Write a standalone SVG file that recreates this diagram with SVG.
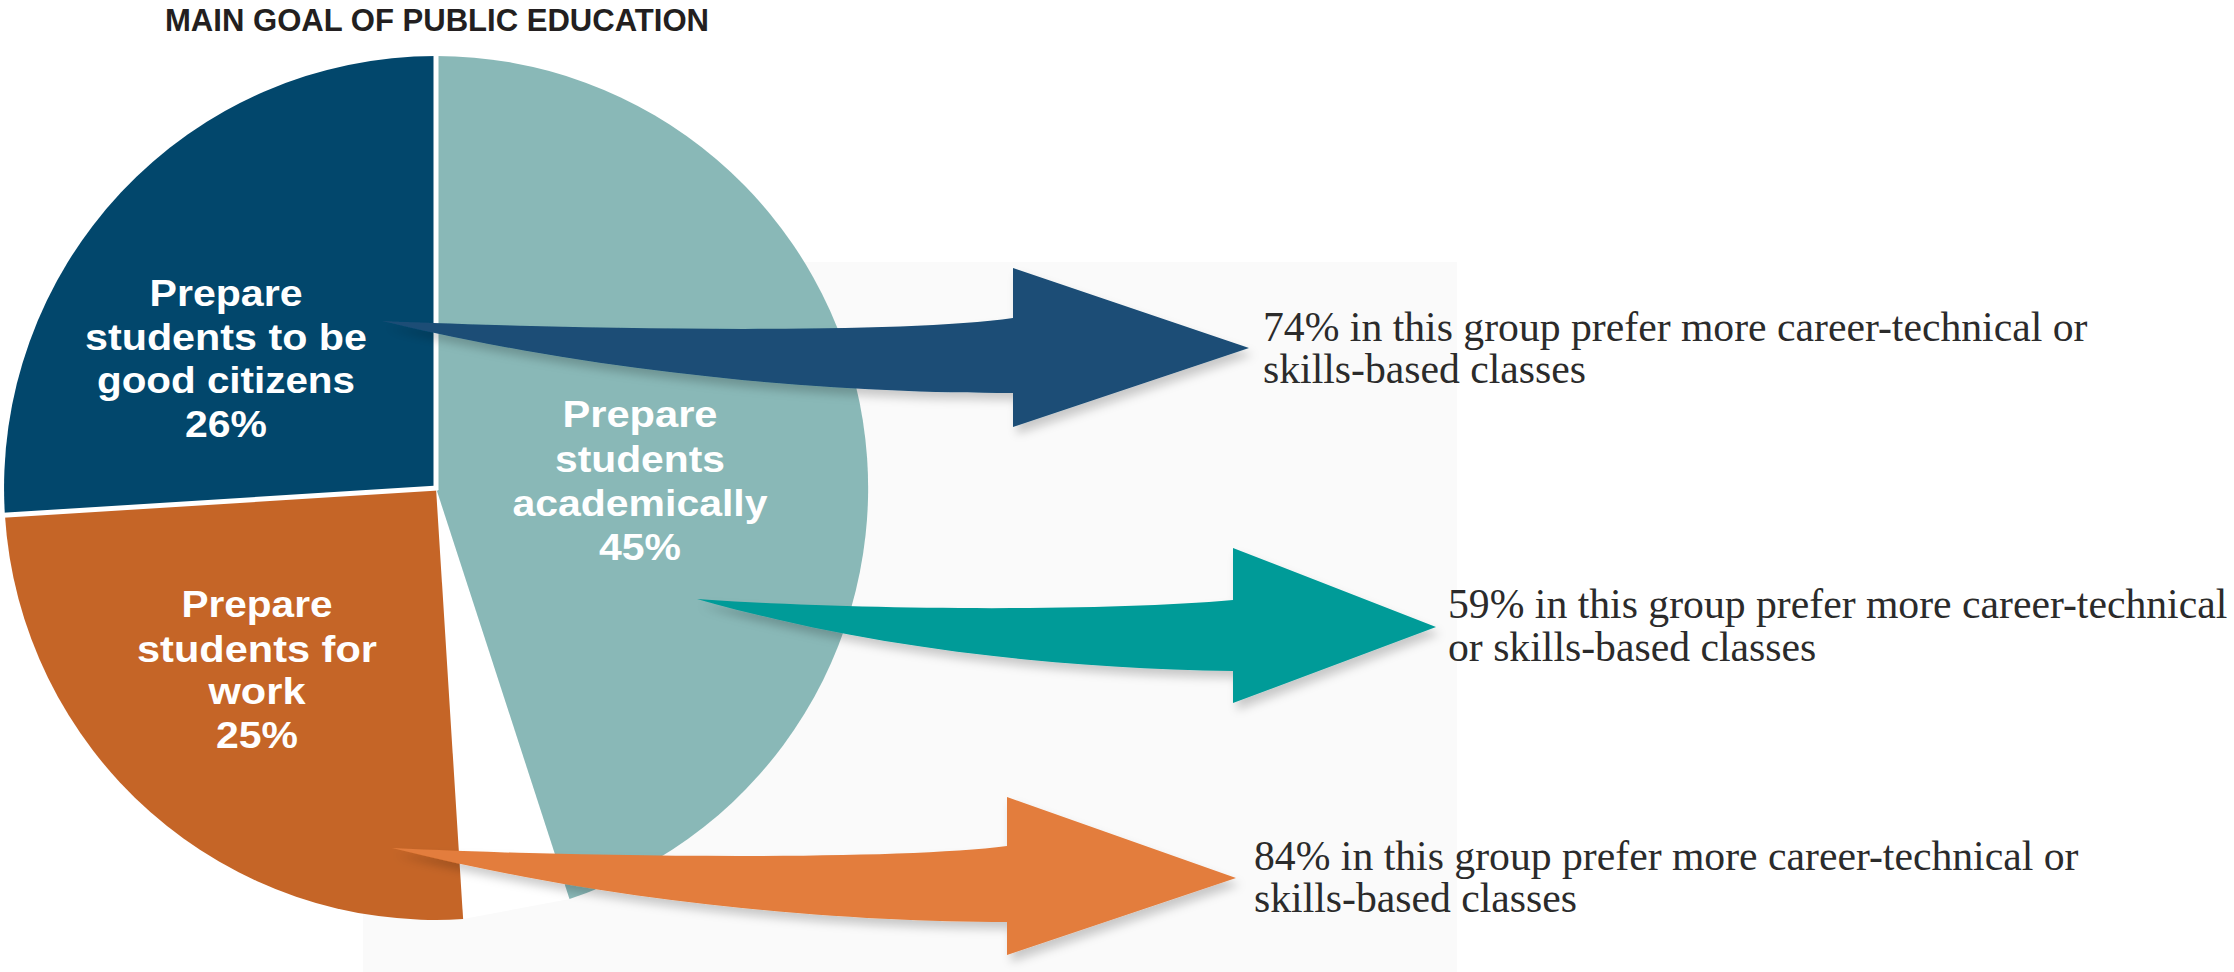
<svg xmlns="http://www.w3.org/2000/svg" width="2234" height="972" viewBox="0 0 2234 972">
<defs>
<style>
.lbl{font-family:"Liberation Sans",Arial,sans-serif;font-weight:bold;font-size:36px;fill:#ffffff;text-anchor:middle}
.note{font-family:"Liberation Serif","Times New Roman",serif;font-size:41.7px;fill:#2b2b2b}
.title{font-family:"Liberation Sans",Arial,sans-serif;font-weight:bold;font-size:31px;fill:#231f20}
.sep{stroke:#ffffff;stroke-width:5;fill:none}
</style>
<filter id="sh" x="-10%" y="-30%" width="130%" height="180%">
<feDropShadow dx="4" dy="7" stdDeviation="5" flood-color="#000000" flood-opacity="0.2"/>
</filter>
</defs>
<rect x="0" y="0" width="2234" height="972" fill="#ffffff"/>
<rect id="panel" x="363" y="262" width="1094" height="710" fill="#fafafa"/>
<text class="title" x="165" y="31" textLength="544" lengthAdjust="spacingAndGlyphs">MAIN GOAL OF PUBLIC EDUCATION</text>

<g id="pie">
<path d="M436,488 L569.5,898.9 L463.1,919.1 Z" fill="#ffffff"/>
<g id="slice-academic">
<path d="M436,488 L436,56 A432,432 0 0 1 569.5,898.9 Z" fill="#89b8b7"/>
</g>
<g id="slice-citizens">
<path d="M436,488 L4.9,515.1 A432,432 0 0 1 436,56 Z" fill="#02476c"/>
</g>
<g id="slice-work">
<path d="M436,488 L463.1,919.1 A432,432 0 0 1 4.9,515.1 Z" fill="#c56527"/>
</g>
<line class="sep" x1="436" y1="54" x2="436" y2="490"/>
<line class="sep" x1="438" y1="488" x2="3" y2="515.3"/>
</g>

<g id="connectors" filter="url(#sh)">
<path id="arrow-citizens" fill="#1a4d76" d="M382,321 C600,330 900,334 1013,318 L1013,268 L1249,348 L1013,427 L1013,393 C850,393 620,378 382,321 Z"/>
<path id="arrow-academic" fill="#009b98" d="M697,599 C850,610 1100,612 1233,600 L1233,548 L1436,627 L1233,703 L1233,671 C1050,668 870,648 697,599 Z"/>
<path id="arrow-work" fill="#e37d3c" d="M392,848 C600,858 900,860 1007,846 L1007,797 L1236,878 L1007,955 L1007,922 C850,922 620,905 392,848 Z"/>
</g>

<g id="label-citizens">
<text class="lbl" x="226" y="306" textLength="153" lengthAdjust="spacingAndGlyphs">Prepare</text>
<text class="lbl" x="226" y="350" textLength="282" lengthAdjust="spacingAndGlyphs">students to be</text>
<text class="lbl" x="226" y="393" textLength="258" lengthAdjust="spacingAndGlyphs">good citizens</text>
<text class="lbl" x="226" y="437" textLength="82" lengthAdjust="spacingAndGlyphs">26%</text>
</g>
<g id="label-academic">
<text class="lbl" x="640" y="427" textLength="155" lengthAdjust="spacingAndGlyphs">Prepare</text>
<text class="lbl" x="640" y="472" textLength="170" lengthAdjust="spacingAndGlyphs">students</text>
<text class="lbl" x="640" y="516" textLength="255" lengthAdjust="spacingAndGlyphs">academically</text>
<text class="lbl" x="640" y="560" textLength="82" lengthAdjust="spacingAndGlyphs">45%</text>
</g>
<g id="label-work">
<text class="lbl" x="257" y="617" textLength="151" lengthAdjust="spacingAndGlyphs">Prepare</text>
<text class="lbl" x="257" y="662" textLength="240" lengthAdjust="spacingAndGlyphs">students for</text>
<text class="lbl" x="257" y="704" textLength="97" lengthAdjust="spacingAndGlyphs">work</text>
<text class="lbl" x="257" y="748" textLength="82" lengthAdjust="spacingAndGlyphs">25%</text>
</g>

<g id="note-citizens">
<text class="note" x="1263" y="341">74% in this group prefer more career-technical or</text>
<text class="note" x="1263" y="383">skills-based classes</text>
</g>
<g id="note-academic">
<text class="note" x="1448" y="618">59% in this group prefer more career-technical</text>
<text class="note" x="1448" y="661">or skills-based classes</text>
</g>
<g id="note-work">
<text class="note" x="1254" y="870">84% in this group prefer more career-technical or</text>
<text class="note" x="1254" y="912">skills-based classes</text>
</g>
</svg>
